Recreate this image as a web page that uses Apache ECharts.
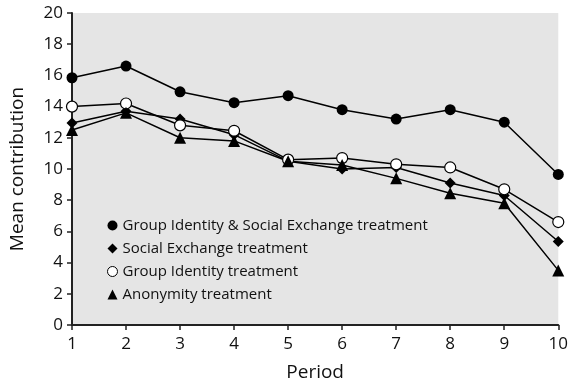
<!DOCTYPE html>
<html><head><meta charset="utf-8">
<script src="https://cdn.jsdelivr.net/npm/echarts@6/dist/echarts.min.js"></script>
<style>html,body{margin:0;padding:0;background:#fff}#c{width:571px;height:387px}</style>
</head><body><div id="c"></div>
<script>
const periods = ['1','2','3','4','5','6','7','8','9','10'];
const seriesNames = ['Group Identity & Social Exchange treatment','Social Exchange treatment','Group Identity treatment','Anonymity treatment'];
const giSe = [15.85, 16.6, 14.95, 14.25, 14.7, 13.8, 13.2, 13.8, 13.0, 9.65];
const se   = [12.95, 13.7, 13.2, 12.2, 10.5, 10.0, 10.1, 9.1, 8.3, 5.35];
const gi   = [14.0, 14.2, 12.8, 12.45, 10.6, 10.7, 10.3, 10.1, 8.7, 6.6];
const anon = [12.5, 13.6, 12.0, 11.8, 10.5, 10.25, 9.4, 8.45, 7.8, 3.5];
const yTicks = {min: 0, max: 20, interval: 2};

const font = 'Open Sans';
const chart = echarts.init(document.getElementById('c'), null, {renderer: 'canvas'});
function mk(name, data, symbol, fill) {
  return {
    name: name, type: 'line', data: data, symbol: symbol, symbolSize: symbol === 'triangle' ? 12 : 11,
    lineStyle: {color: '#000', width: 1.5},
    itemStyle: {color: fill, borderColor: '#000', borderWidth: fill === '#fff' ? 1.2 : 0},
    emphasis: {disabled: true}, z: 3
  };
}
chart.setOption({
  animation: false,
  grid: {left: 70, right: 10, top: 13, bottom: 61, show: true, backgroundColor: '#e5e5e5', borderWidth: 0},
  legend: {
    orient: 'vertical', left: 102, top: 213, itemGap: 8, itemWidth: 10, itemHeight: 10,
    textStyle: {fontFamily: font, fontSize: 15, color: '#111'},
    data: [
      {name: seriesNames[0], icon: 'circle', itemStyle: {color: '#000', borderWidth: 0}},
      {name: seriesNames[1], icon: 'diamond', itemStyle: {color: '#000', borderWidth: 0}},
      {name: seriesNames[2], icon: 'circle', itemStyle: {color: '#fff', borderColor: '#000', borderWidth: 1}},
      {name: seriesNames[3], icon: 'triangle', itemStyle: {color: '#000', borderWidth: 0}}
    ],
    selectedMode: false
  },
  xAxis: {
    type: 'category', data: periods, boundaryGap: false,
    name: 'Period', nameLocation: 'middle', nameGap: 38,
    nameTextStyle: {fontFamily: font, fontSize: 19, color: '#111'},
    axisLine: {lineStyle: {color: '#222', width: 2}},
    axisTick: {show: true, length: 5, lineStyle: {color: '#222', width: 1.5}, alignWithLabel: true},
    axisLabel: {fontFamily: font, fontSize: 17, color: '#111', margin: 11},
    splitLine: {show: false}
  },
  yAxis: {
    type: 'value', min: yTicks.min, max: yTicks.max, interval: yTicks.interval,
    name: 'Mean contribution', nameLocation: 'middle', nameGap: 45,
    nameTextStyle: {fontFamily: font, fontSize: 19, color: '#111'},
    axisLine: {show: true, lineStyle: {color: '#222', width: 2}},
    axisTick: {show: true, length: 5, lineStyle: {color: '#222', width: 1.5}},
    axisLabel: {fontFamily: font, fontSize: 17, color: '#111', margin: 9},
    splitLine: {show: false}
  },
  series: [
    mk(seriesNames[0], giSe, 'circle', '#000'),
    mk(seriesNames[1], se, 'diamond', '#000'),
    mk(seriesNames[2], gi, 'circle', '#fff'),
    mk(seriesNames[3], anon, 'triangle', '#000')
  ]
});
</script></body></html>
